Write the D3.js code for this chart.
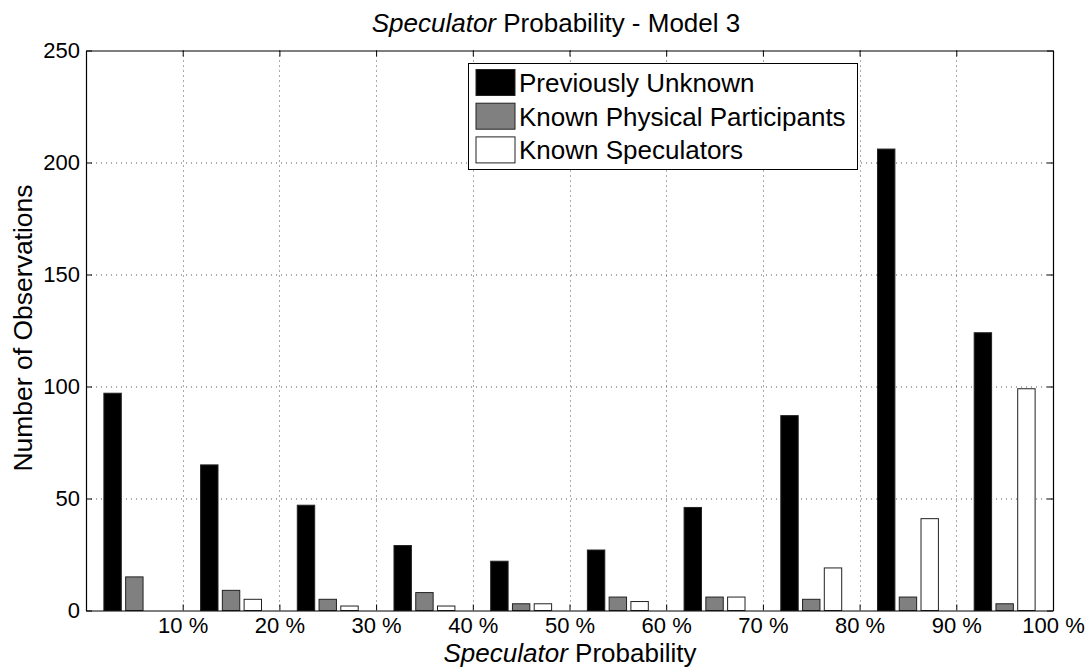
<!DOCTYPE html>
<html>
<head>
<meta charset="utf-8">
<script src="https://cdn.jsdelivr.net/npm/d3@7"></script>
<style>
  body { margin: 0; background: #fff; }
  #chart { width: 1091px; height: 669px; }
  text { font-family: "Liberation Sans", Arial, sans-serif; fill: #000; }
</style>
</head>
<body>
<div id="chart"></div>
<script>
//Datos
const bins = ['0-10', '10-20', '20-30', '30-40', '40-50', '50-60', '60-70', '70-80', '80-90', '90-100'];
const series = ['Previously Unknown', 'Known Physical Participants', 'Known Speculators'];
const previouslyUnknown = [97, 65, 47, 29, 22, 27, 46, 87, 206, 124];
const knownPhysical = [15, 9, 5, 8, 3, 6, 6, 5, 6, 3];
const knownSpeculators = [0, 5, 2, 2, 3, 4, 6, 19, 41, 99];
const xTicks = [10, 20, 30, 40, 50, 60, 70, 80, 90, 100];
const yTicks = [0, 50, 100, 150, 200, 250];

//Colores
const COLORS = ['#000000', '#808080', '#ffffff'];

let margin = {top: 50.5, right: 38, bottom: 58.5, left: 86},
    width = 1091 - margin.left - margin.right,
    height = 669 - margin.top - margin.bottom;

let svgRoot = d3.select('#chart')
    .append('svg')
        .attr('width', 1091)
        .attr('height', 669);

let svg = svgRoot.append('g')
    .attr('transform', 'translate(' + margin.left + ',' + margin.top + ')');

let data = bins.map(function(b, i) {
    return { bin: b, values: [previouslyUnknown[i], knownPhysical[i], knownSpeculators[i]] };
});

let x = d3.scaleLinear().domain([0, 100]).range([0, width]);
let xBand = d3.scaleBand()
    .domain(bins)
    .range([0, width])
    .paddingInner(0.37)
    .paddingOuter(0.185);
let xSub = d3.scaleBand()
    .domain(series)
    .range([0, xBand.bandwidth()])
    .paddingInner(0.2);
let y = d3.scaleLinear().domain([0, 250]).range([height, 0]);

//Rejilla
let grid = svg.append('g').attr('class', 'grid');
grid.selectAll('.gx')
    .data(xTicks.slice(0, -1))
    .enter().append('line')
    .attr('x1', d => Math.round(x(d)) + 0.5).attr('x2', d => Math.round(x(d)) + 0.5)
    .attr('y1', 0).attr('y2', height)
    .attr('stroke', '#555').attr('stroke-dasharray', '1,4');
grid.selectAll('.gy')
    .data(yTicks.slice(1, -1))
    .enter().append('line')
    .attr('y1', d => Math.round(y(d)) + 0.5).attr('y2', d => Math.round(y(d)) + 0.5)
    .attr('x1', 0).attr('x2', width)
    .attr('stroke', '#555').attr('stroke-dasharray', '1,4');

//Barras
svg.append('g')
    .selectAll('g')
    .data(data)
    .enter().append('g')
    .attr('transform', d => 'translate(' + xBand(d.bin) + ',0)')
    .selectAll('rect')
    .data(d => d.values.map((v, i) => ({key: series[i], value: v, idx: i})))
    .enter().append('rect')
    .filter(d => d.value > 0)
    .attr('x', d => xSub(d.key))
    .attr('width', xSub.bandwidth())
    .attr('y', d => y(d.value))
    .attr('height', d => y(0) - y(d.value))
    .attr('fill', d => COLORS[d.idx])
    .attr('stroke', '#222')
    .attr('stroke-width', 1);

//Ejes
svg.append('g')
    .call(d3.axisLeft(y).tickValues(yTicks).tickSizeInner(-6).tickSizeOuter(0).tickPadding(6));
svg.append('g')
    .attr('transform', 'translate(' + width + ',0)')
    .call(d3.axisRight(y).tickValues(yTicks).tickSizeInner(-6).tickSizeOuter(0).tickFormat(''));
svg.append('g')
    .attr('transform', 'translate(0,' + height + ')')
    .call(d3.axisBottom(x).tickValues(xTicks).tickSizeInner(-6).tickSizeOuter(0).tickPadding(7)
        .tickFormat(d => d + ' %'));
svg.append('g')
    .call(d3.axisTop(x).tickValues(xTicks).tickSizeInner(-6).tickSizeOuter(0).tickFormat(''));

svg.selectAll('.domain').attr('stroke', '#000').attr('stroke-width', 1.2);
svg.selectAll('.tick line').attr('stroke', '#000');
svg.selectAll('.tick text')
    .style('font-family', '"Liberation Sans", Arial, sans-serif')
    .style('font-size', '22px')
    .attr('fill', '#000');

//Titulo
let title = svgRoot.append('text')
    .attr('x', 556)
    .attr('y', 32)
    .attr('text-anchor', 'middle')
    .style('font-size', '26px');
title.append('tspan').style('font-style', 'italic').text('Speculator');
title.append('tspan').text(' Probability - Model 3');

let xLabel = svgRoot.append('text')
    .attr('x', 570)
    .attr('y', 662)
    .attr('text-anchor', 'middle')
    .style('font-size', '26px');
xLabel.append('tspan').style('font-style', 'italic').text('Speculator');
xLabel.append('tspan').text(' Probability');

svgRoot.append('text')
    .attr('transform', 'translate(31.5,328) rotate(-90)')
    .attr('text-anchor', 'middle')
    .style('font-size', '26.5px')
    .text('Number of Observations');

//Leyenda
let legend = svgRoot.append('g').attr('transform', 'translate(468.5,63.5)');
legend.append('rect')
    .attr('width', 389).attr('height', 106)
    .attr('fill', '#fff').attr('stroke', '#000').attr('stroke-width', 1);
let items = legend.selectAll('.item')
    .data(series)
    .enter().append('g')
    .attr('transform', (d, i) => 'translate(7.5,' + (6 + i * 33.7) + ')');
items.append('rect')
    .attr('width', 39).attr('height', 26)
    .attr('fill', (d, i) => COLORS[i])
    .attr('stroke', '#222');
items.append('text')
    .attr('x', 43)
    .attr('y', 13)
    .attr('dy', '0.36em')
    .style('font-size', '26px')
    .text(d => d);
</script>
</body>
</html>
